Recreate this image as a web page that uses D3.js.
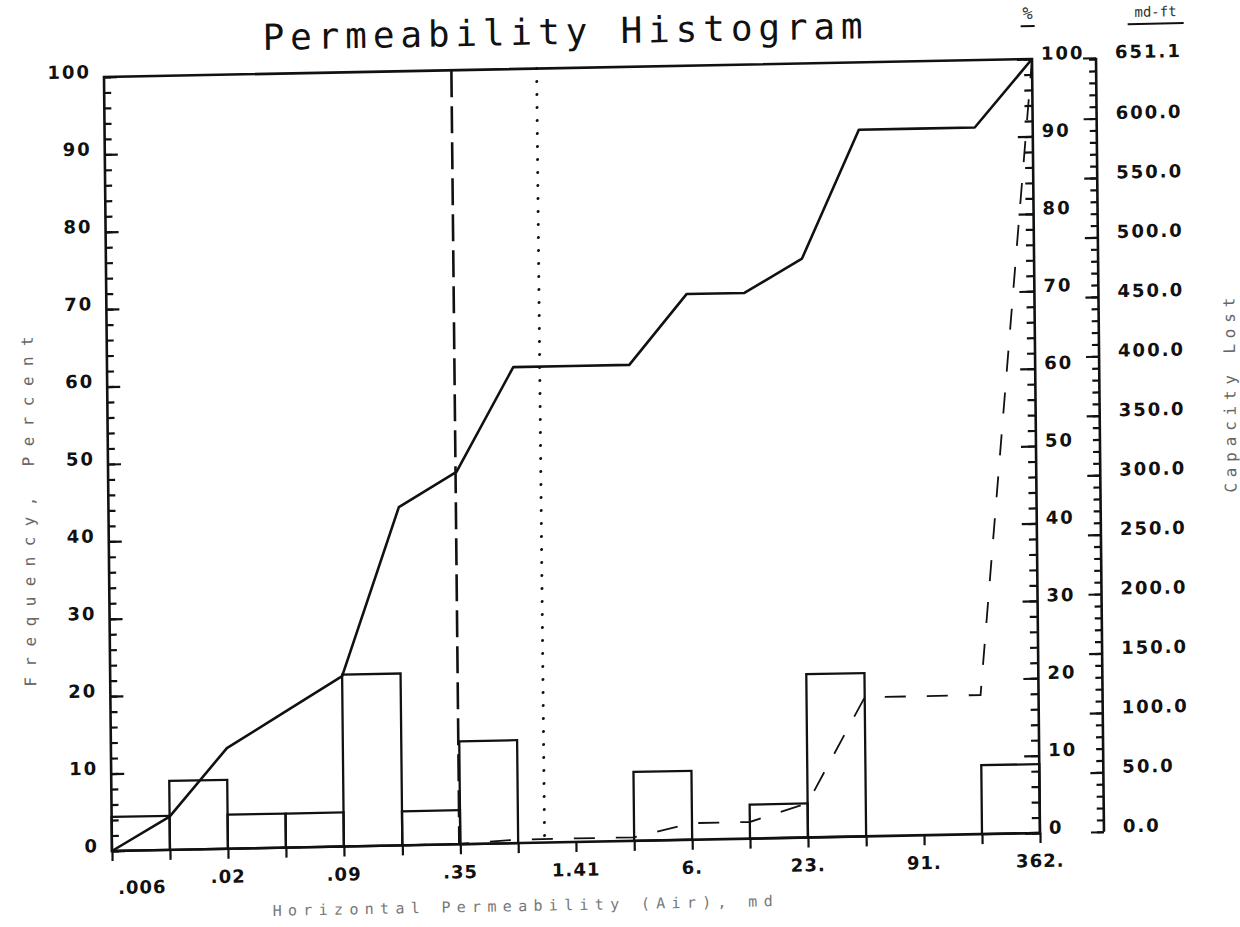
<!DOCTYPE html>
<html>
<head>
<meta charset="utf-8">
<script src="https://cdn.jsdelivr.net/npm/d3@7"></script>
<style>
body { margin: 0; background: #fff; }
svg { display: block; }
</style>
</head>
<body>
<svg id="chart" width="1240" height="927"></svg>
<script>
// bin edges of the permeability classes (md), each twice the last
var binEdges = [0.0055, 0.011, 0.022, 0.044, 0.088, 0.177, 0.354, 0.707, 1.41,
                2.83, 5.66, 11.3, 22.6, 45.3, 90.5, 181, 362];
var edgeLabels = ['.006', '.02', '.09', '.35', '1.41', '6.', '23.', '91.', '362.'];
// frequency of each class, percent
var freqPct = [4.4, 8.9, 4.4, 4.4, 22.2, 4.4, 13.3, 0, 0, 8.9, 0, 4.4, 21.1, 0, 0, 8.9];
// cumulative frequency at each edge, percent
var cumPct = [0, 4.3, 13.0, 17.5, 22.0, 43.7, 48.1, 61.5, 61.5, 61.5, 70.5, 70.5, 74.8,
              91.3, 91.3, 91.3, 100];
// cumulative capacity lost at each edge, md-ft
var capLost = [0, 0, 0, 0, 0, 0, 0.5, 3, 3, 3, 14, 14, 29, 117, 117, 117, 651.1];
var capMax = 651.1;
var medianK = 0.35;
var meanK = 0.97;

var W = 928, H = 774;
var ink = '#111';
var numFont = 'bold 18px DejaVu Sans, sans-serif';

var svg = d3.select('#chart');
svg.append('rect').attr('width', 1240).attr('height', 927).attr('fill', '#fff');

// the scan is a little skewed, so the whole drawing is too
var g = svg.append('g')
    .attr('transform', 'translate(104,77) matrix(1,-0.0194,0.0103,1,0,0)');

var x = d3.scaleLog().domain([binEdges[0], binEdges[binEdges.length - 1]]).range([0, W]);
var y = d3.scaleLinear().domain([0, 100]).range([H, 0]);
var yCap = d3.scaleLinear().domain([0, capMax]).range([H, 0]);

function styleAxis(a, labelled) {
    a.select('.domain').remove();
    a.selectAll('line').attr('stroke', ink).attr('stroke-width', 2.2);
    if (labelled) {
        a.selectAll('text')
            .attr('dy', '0.02em')
            .style('font', numFont)
            .style('letter-spacing', '2px')
            .attr('fill', ink);
    }
}

// histogram bars
freqPct.forEach(function(d, i) {
    if (!d) return;
    g.append('rect')
        .attr('x', x(binEdges[i]))
        .attr('y', y(d))
        .attr('width', x(binEdges[i + 1]) - x(binEdges[i]))
        .attr('height', y(0) - y(d))
        .attr('fill', 'none')
        .attr('stroke', ink)
        .attr('stroke-width', 2.3);
});

// frame
g.append('path')
    .attr('d', 'M0,0H' + W + 'V' + H + 'H0Z')
    .attr('fill', 'none')
    .attr('stroke', ink)
    .attr('stroke-width', 2.6);

// left axis: minor and major ticks pointing in
g.append('g')
    .call(d3.axisLeft(y).tickValues(d3.range(0, 101, 2)).tickSize(-7).tickFormat(''))
    .call(styleAxis, false);
g.append('g')
    .call(d3.axisLeft(y).tickValues(d3.range(0, 101, 10)).tickSize(-13).tickPadding(13))
    .call(styleAxis, true);

// right percent axis
g.append('g')
    .attr('transform', 'translate(' + W + ',0)')
    .call(d3.axisRight(y).tickValues(d3.range(0, 101, 2)).tickSize(-8).tickFormat(''))
    .call(styleAxis, false);
g.append('g')
    .attr('transform', 'translate(' + W + ',0)')
    .call(d3.axisRight(y).tickValues(d3.range(0, 101, 10)).tickSize(-15).tickPadding(9))
    .call(styleAxis, true);

// capacity axis, md-ft
var capX = W + 64;
g.append('g')
    .attr('transform', 'translate(' + capX + ',0)')
    .call(d3.axisRight(yCap).tickValues(d3.range(0, 651, 10)).tickSize(-7).tickFormat(''))
    .call(styleAxis, false);
g.append('g')
    .attr('transform', 'translate(' + capX + ',0)')
    .call(d3.axisRight(yCap).tickValues(d3.range(0, 601, 50).concat([capMax]))
        .tickSize(-13).tickPadding(19).tickFormat(d3.format('.1f')))
    .call(styleAxis, true);
g.append('line')
    .attr('x1', capX).attr('x2', capX)
    .attr('y1', yCap(capMax)).attr('y2', yCap(0))
    .attr('stroke', ink).attr('stroke-width', 2.6);

// x axis ticks at every class edge
g.append('g')
    .attr('transform', 'translate(0,' + H + ')')
    .call(d3.axisBottom(x).tickValues(binEdges).tickSize(10).tickFormat(''))
    .call(styleAxis, false);

g.append('g')
    .selectAll('text')
    .data(edgeLabels)
    .enter()
    .append('text')
    .attr('x', function(d, i) { return x(binEdges[i * 2]) + (i === 0 ? 30 : 0); })
    .attr('y', function(d, i) { return H + (i === 0 ? 43 : 34); })
    .attr('text-anchor', 'middle')
    .style('font', numFont)
    .style('letter-spacing', '1px')
    .attr('fill', ink)
    .text(function(d) { return d; });

// cumulative frequency
g.append('path')
    .datum(cumPct)
    .attr('fill', 'none')
    .attr('stroke', ink)
    .attr('stroke-width', 2.6)
    .attr('stroke-linejoin', 'round')
    .attr('d', d3.line()
        .x(function(d, i) { return x(binEdges[i]); })
        .y(function(d) { return y(d); }));

// cumulative capacity lost
g.append('path')
    .datum(capLost)
    .attr('fill', 'none')
    .attr('stroke', ink)
    .attr('stroke-width', 1.8)
    .attr('stroke-dasharray', '21,21')
    .attr('d', d3.line()
        .x(function(d, i) { return x(binEdges[i]); })
        .y(function(d) { return yCap(d); }));

// median and mean permeability
g.append('line')
    .attr('x1', x(medianK)).attr('x2', x(medianK))
    .attr('y1', 0).attr('y2', H)
    .attr('stroke', ink)
    .attr('stroke-width', 2.6)
    .attr('stroke-dasharray', '27,9');

g.append('line')
    .attr('x1', x(meanK)).attr('x2', x(meanK))
    .attr('y1', 0).attr('y2', H)
    .attr('stroke', ink)
    .attr('stroke-width', 3)
    .attr('stroke-linecap', 'round')
    .attr('stroke-dasharray', '0,13');

// titles
g.append('text')
    .attr('x', 459).attr('y', -24)
    .attr('text-anchor', 'middle')
    .attr('textLength', 600)
    .attr('lengthAdjust', 'spacing')
    .style('font', '36px DejaVu Sans Mono, monospace')
    .attr('fill', ink)
    .text('Permeability Histogram');

g.append('text')
    .attr('x', 410).attr('y', H + 68)
    .attr('text-anchor', 'middle')
    .attr('textLength', 500)
    .attr('lengthAdjust', 'spacing')
    .style('font', '15px DejaVu Sans Mono, monospace')
    .attr('fill', '#777')
    .text('Horizontal Permeability (Air), md');

g.append('text')
    .attr('transform', 'translate(-74,433) rotate(-90)')
    .attr('text-anchor', 'middle')
    .attr('textLength', 350)
    .attr('lengthAdjust', 'spacing')
    .style('font', '16px DejaVu Sans Mono, monospace')
    .attr('fill', '#666')
    .text('Frequency, Percent');

g.append('text')
    .attr('transform', 'translate(1128,340) rotate(-90)')
    .attr('text-anchor', 'middle')
    .attr('textLength', 195)
    .attr('lengthAdjust', 'spacing')
    .style('font', '16px DejaVu Sans Mono, monospace')
    .attr('fill', '#666')
    .text('Capacity Lost');

// unit headers over the right axes
var heads = [{t: '%', x: W - 4, w: 14, size: 17}, {t: 'md-ft', x: capX + 60, w: 56, size: 14}];
heads.forEach(function(h) {
    g.append('text')
        .attr('x', h.x).attr('y', -40)
        .attr('text-anchor', 'middle')
        .style('font', h.size + 'px DejaVu Sans Mono, monospace')
        .attr('fill', '#333')
        .text(h.t);
    g.append('line')
        .attr('x1', h.x - h.w / 2).attr('x2', h.x + h.w / 2)
        .attr('y1', -33).attr('y2', -33)
        .attr('stroke', ink).attr('stroke-width', 2);
});
</script>
</body>
</html>
